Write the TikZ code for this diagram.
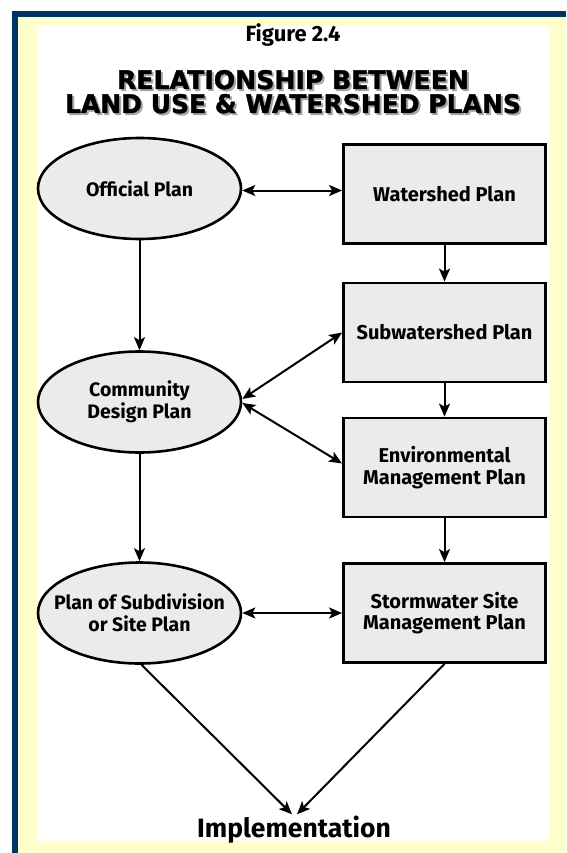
\documentclass[tikz,border=0pt]{standalone}
\usepackage{fontspec}
\setmainfont{Fira Sans}
\newfontfamily\titlefont[BoldFeatures={FakeBold=1.5}]{DejaVu Sans}
\usetikzlibrary{arrows.meta,shapes.geometric}
\definecolor{navy}{HTML}{003366}
\definecolor{paleyellow}{HTML}{FFFFCC}
\definecolor{boxgray}{HTML}{EBEBEB}
\newcommand{\ttline}[2]{\resizebox{#1}{19pt}{\raisebox{0pt}[\height][0pt]{\titlefont\bfseries #2}}}
\begin{document}
\begin{tikzpicture}[x=1pt,y=-1pt,
  planell/.style={ellipse, draw, line width=2.6pt, fill=boxgray, minimum width=203pt,
    minimum height=101pt, inner xsep=-25pt, inner ysep=0pt, align=center,
    font=\fontsize{19.5}{21.5}\selectfont\bfseries},
  planbox/.style={rectangle, draw, line width=2.8pt, fill=boxgray, minimum width=202pt,
    minimum height=99pt, inner sep=0pt, align=center,
    font=\fontsize{20}{21.5}\selectfont\bfseries},
  conn/.style={line width=2pt, -{Stealth[length=13pt,width=11pt,inset=3pt]}},
  biconn/.style={line width=2pt, {Stealth[length=13pt,width=11pt,inset=3pt]}-{Stealth[length=13pt,width=11pt,inset=3pt]}},
  lbl/.style={inner sep=1pt, font=\bfseries}
]
\useasboundingbox (0,0) rectangle (566,853);
% frame
\fill[white] (0,0) rectangle (566,853);
\fill[navy] (12,11) rectangle (566,853);
\fill[paleyellow] (18,17) rectangle (566,853);
\fill[white] (37,26) rectangle (549,841);

% titles
\node[lbl, anchor=base, font=\fontsize{22}{24}\selectfont\bfseries] (fig) at (293,42) {Figure 2.4};
\node[anchor=base, inner sep=0pt, text=black!35] at (295,91) {\ttline{352pt}{RELATIONSHIP BETWEEN}};
\node[anchor=base, inner sep=0pt] (t1) at (293,89) {\ttline{352pt}{RELATIONSHIP BETWEEN}};
\node[anchor=base, inner sep=0pt, text=black!35] at (295,115) {\ttline{456pt}{LAND USE \& WATERSHED PLANS}};
\node[anchor=base, inner sep=0pt] (t2) at (293,113) {\ttline{456pt}{LAND USE \& WATERSHED PLANS}};

% left column
\node[planell] (off) at (139.5,188.5) {Official Plan};
\node[planell] (cdp) at (139.5,402) {Community\\Design Plan};
\node[planell] (sub) at (139.5,613) {Plan of Subdivision\\or Site Plan};

% right column
\node[planbox] (ws) at (444.5,194) {Watershed Plan};
\node[planbox] (sws) at (444.5,332.5) {Subwatershed Plan};
\node[planbox] (emp) at (444.5,467.5) {Environmental\\Management Plan};
\node[planbox] (ssm) at (444.5,613) {Stormwater Site\\Management Plan};

% implementation
\node[lbl, anchor=base, font=\fontsize{26.5}{28}\selectfont\bfseries] (impl) at (294,837) {Implementation};

% connectors
\draw[biconn] ([yshift=-2pt]off.east) -- ([yshift=-2pt]off.east -| ws.west);
\draw[conn] (off.south) -- (cdp.north);
\draw[conn] (cdp.south) -- (sub.north);
\draw[conn] (ws.south) -- (sws.north);
\draw[conn] (sws.south) -- (emp.north);
\draw[conn] (emp.south) -- (ssm.north);
\draw[biconn] ([yshift=3pt]cdp.east) -- (sws.west);
\draw[biconn] ([yshift=-1pt]cdp.east) -- ([yshift=4pt]emp.west);
\draw[biconn] (sub.east) -- (ssm.west);
\draw[conn] ([xshift=2pt]sub.south) -- ([xshift=-2pt]impl.north);
\draw[conn] (ssm.south) -- ([xshift=3pt]impl.north);
\end{tikzpicture}
\end{document}
